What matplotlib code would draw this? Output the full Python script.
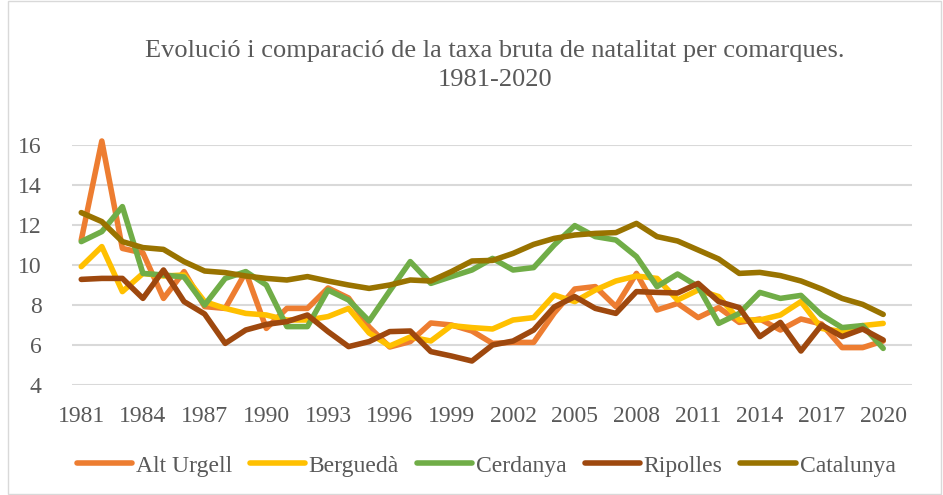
import matplotlib
matplotlib.use("Agg")
import matplotlib.pyplot as plt
from matplotlib.patches import Rectangle

years = list(range(1981, 2021))

alt_urgell = [11.25, 16.2, 10.83, 10.6, 8.33, 9.67, 7.92, 7.83, 9.65, 6.83, 7.83, 7.83,
              8.85, 8.35, 6.9, 5.9, 6.17, 7.1, 7.0, 6.7, 6.08, 6.13, 6.13, 7.6,
              8.8, 8.92, 7.92, 9.58, 7.75, 8.08, 7.37, 7.87, 7.13, 7.3, 6.75, 7.3,
              7.05, 5.87, 5.87, 6.2]
bergueda = [9.92, 10.92, 8.67, 9.58, 9.45, 9.5, 8.17, 7.83, 7.58, 7.5, 7.25, 7.25,
            7.42, 7.83, 6.6, 5.95, 6.4, 6.2, 6.97, 6.87, 6.8, 7.25, 7.37, 8.5,
            8.17, 8.75, 9.2, 9.45, 9.33, 8.25, 8.75, 8.42, 7.25, 7.25, 7.5, 8.17,
            6.83, 6.67, 6.97, 7.08]
cerdanya = [11.17, 11.67, 12.92, 9.58, 9.5, 9.4, 8.0, 9.33, 9.67, 9.0, 6.92, 6.92,
            8.75, 8.25, 7.2, 8.7, 10.17, 9.08, 9.42, 9.75, 10.33, 9.75, 9.87, 11.0,
            11.97, 11.42, 11.25, 10.42, 8.92, 9.55, 8.92, 7.08, 7.58, 8.63, 8.33, 8.48,
            7.5, 6.87, 6.97, 5.83]
ripolles = [9.28, 9.33, 9.33, 8.33, 9.75, 8.17, 7.55, 6.08, 6.75, 7.03, 7.17, 7.5,
            6.67, 5.92, 6.17, 6.67, 6.7, 5.67, 5.45, 5.2, 6.0, 6.2, 6.75, 7.9,
            8.42, 7.83, 7.58, 8.67, 8.63, 8.6, 9.08, 8.17, 7.87, 6.42, 7.13, 5.7,
            7.0, 6.42, 6.8, 6.25]
catalunya = [12.62, 12.17, 11.17, 10.87, 10.78, 10.17, 9.7, 9.62, 9.45, 9.33, 9.25, 9.42,
             9.2, 9.0, 8.83, 9.0, 9.25, 9.2, 9.67, 10.2, 10.23, 10.58, 11.03, 11.33,
             11.5, 11.58, 11.62, 12.08, 11.42, 11.2, 10.75, 10.3, 9.58, 9.63, 9.47, 9.2,
             8.8, 8.33, 8.03, 7.53]

series_names = ["Alt Urgell", "Berguedà", "Cerdanya", "Ripolles", "Catalunya"]
series_values = [alt_urgell, bergueda, cerdanya, ripolles, catalunya]
colors = ["#ED7D31", "#FFC000", "#70AD47", "#9E480E", "#997300"]

title_line1 = "Evolució i comparació de la taxa bruta de natalitat per comarques."
title_line2 = "1981-2020"
xtick_years = [1981, 1984, 1987, 1990, 1993, 1996, 1999, 2002, 2005, 2008, 2011, 2014, 2017, 2020]
ytick_vals = [4, 6, 8, 10, 12, 14, 16]

plt.rcParams['font.family'] = ['Liberation Serif', 'DejaVu Serif']

W, H = 943, 495
fig = plt.figure(figsize=(W / 100, H / 100), dpi=100)
ax = fig.add_axes([72 / W, 1 - 385 / H, (912 - 72) / W, (385 - 145) / H])

for name, vals, c in zip(series_names, series_values, colors):
    ax.plot(years, vals, color=c, lw=4.0, label=name, clip_on=False,
            solid_joinstyle='round', solid_capstyle='round')

ax.set_xlim(1980.55, 2021.4)
ax.set_ylim(4, 16)
ax.set_yticks(ytick_vals)
ax.set_xticks(xtick_years)
ax.tick_params(axis='both', length=0, labelsize=17, colors='#595959')
ax.tick_params(axis='y', pad=22)
ax.tick_params(axis='x', pad=15)
for s in ax.spines.values():
    s.set_visible(False)
ax.grid(axis='y', color='#D9D9D9', lw=1.5)
ax.set_axisbelow(True)

fig.text(495 / W, 1 - 57 / H, title_line1, ha='center', va='baseline', fontsize=19,
         color='#595959')
fig.text(495 / W, 1 - 86 / H, title_line2, ha='center', va='baseline', fontsize=19,
         color='#595959')

leg = fig.legend(loc='center', bbox_to_anchor=(486 / W, 1 - 466 / H), ncol=5,
                 frameon=False, fontsize=17, handlelength=2.33, columnspacing=0.76,
                 handletextpad=0.17, labelcolor='#595959')
for line in leg.get_lines():
    line.set_linewidth(4.0)

fig.patches.append(Rectangle((8 / W, 0.002), 1 - 8 / W - 0.002, 0.996, transform=fig.transFigure,
                             fill=False, edgecolor='#D9D9D9', lw=1))

fig.savefig("out.png", dpi=100)
